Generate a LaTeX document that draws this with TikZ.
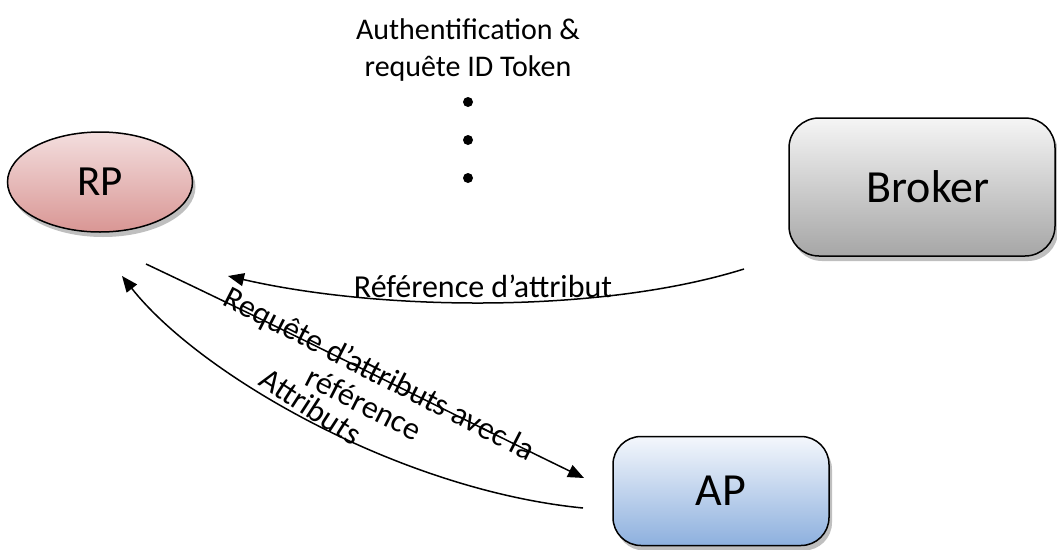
\documentclass[tikz,border=0pt]{standalone}
\usepackage{fontspec}
\setmainfont{Carlito}
\usetikzlibrary{arrows.meta,shapes.geometric,shadows}
\definecolor{rptop}{RGB}{243,222,222}
\definecolor{rpbot}{RGB}{217,150,148}
\definecolor{brtop}{RGB}{245,245,245}
\definecolor{brbot}{RGB}{166,166,166}
\definecolor{aptop}{RGB}{244,247,252}
\definecolor{apbot}{RGB}{141,176,222}
\tikzset{
  shapebox/.style={draw=black, line width=1.5pt,
    drop shadow={shadow xshift=3pt, shadow yshift=-5pt, fill=black, opacity=0.25}},
  rptext/.style={font=\fontsize{43}{47}\selectfont},
  bigtext/.style={font=\fontsize{46}{50}\selectfont},
  toptext/.style={font=\fontsize{30}{36}\selectfont, inner sep=0pt},
  lbl/.style={font=\fontsize{32}{34}\selectfont, inner sep=0pt},
  conn/.style={line width=1.5pt, -{Triangle[length=16pt,width=13pt]}},
}
\begin{document}
\begin{tikzpicture}[x=1pt,y=-1pt]
\useasboundingbox (0,0) rectangle (1057,549);
% nodes
\node[shapebox, ellipse, minimum width=185pt, minimum height=100pt,
      top color=rptop, bottom color=rpbot, rptext] (rp) at (100,182) {RP};
\node[shapebox, rounded corners=30pt, minimum width=266pt, minimum height=138pt,
      top color=brtop, bottom color=brbot] (broker) at (922,187) {};
\node[bigtext] (brokerlabel) at (928,187) {Broker};
\node[shapebox, rounded corners=28pt, minimum width=216pt, minimum height=109pt,
      top color=aptop, bottom color=apbot, bigtext] (ap) at (721,491) {AP};
% top text and dots
\node[toptext, align=center] (auth) at (468,50) {Authentification \&\\requête ID Token};
\fill (468,102) circle (5pt) coordinate (d1);
\fill (468,140) circle (5pt) coordinate (d2);
\fill (468,178) circle (5pt) coordinate (d3);
% connector end points
\coordinate (brs) at (744,269);
\coordinate (rpe1) at (228,276);
\coordinate (rps2) at (146,264);
\coordinate (ape2) at (584,478);
\coordinate (aps3) at (583,508);
\coordinate (rpe3) at (122,276);
% connectors
\draw[conn] (brs) .. controls (600,314) and (380,311) .. (rpe1);
\draw[conn] (rps2) .. controls (290,332) and (440,408) .. (ape2);
\draw[conn] (aps3) .. controls (400,490) and (200,375) .. (rpe3);
% labels
\node[lbl, anchor=base] (l1) at (483,297) {Référence d’attribut};
\node[lbl, align=center, rotate=-27] (l2) at (372,388) {Requête d'attributs avec la\\référence};
\node[lbl, rotate=-33] (l3) at (311,406) {Attributs};
\end{tikzpicture}
\end{document}
